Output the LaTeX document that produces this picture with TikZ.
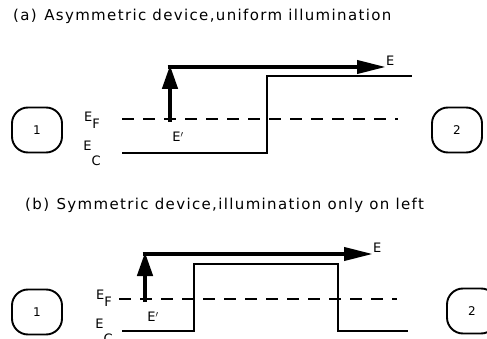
\documentclass[tikz,border=0pt]{standalone}
\usepackage{fontspec}
\setmainfont{DejaVu Sans}
\newfontfamily\capfont[LetterSpace=9]{DejaVu Sans}
\usetikzlibrary{arrows.meta}

\begin{document}
\begin{tikzpicture}[x=1pt, y=-1pt,
  termbox/.style={draw, line width=1.9pt, rounded corners=16pt, minimum width=50pt, minimum height=45pt, font=\fontsize{12}{14}\selectfont},
  band/.style={line width=1.3pt},
  fermi/.style={line width=1.3pt, dash pattern=on 12pt off 9pt},
  uparrow/.style={line width=4.5pt, -{Triangle[length=24pt, width=15pt]}},
  rightarrow/.style={line width=4pt, -{Triangle[length=29pt, width=13pt]}, shorten <=-2.5pt},
  lbl/.style={font=\fontsize{13}{15}\selectfont, inner sep=0pt},
  caption/.style={anchor=west, inner sep=0pt, font=\capfont\fontsize{15}{17}\selectfont}]
\useasboundingbox (0,0) rectangle (487,339);
\clip (0,0) rectangle (487,339);

% (a) Asymmetric device
\node[caption] (capa) at (13,16) {(a)\enspace Asymmetric device,uniform illumination};
\node[termbox] (boxa1) at (37,130) {1};
\node[termbox] (boxa2) at (457,130) {2};
\node[lbl] (efa) at (92,120) {E\raisebox{-7pt}{F}};
\node[lbl] (eca) at (92,153) {E\raisebox{-15pt}{C}};
\draw[fermi] (122,119) -- (398,119);
\draw[band] (122,153) -- (267,153) -- (267,76) -- (412,76);
\coordinate (starta) at (170,122);
\coordinate (topa) at (170,67);
\node[lbl] (eprimea) at (178,137) {E$'$};
\node[lbl, anchor=west] (ea) at (386,61) {E};
\draw[uparrow] (starta) -- ([yshift=2pt]topa);
\draw[rightarrow] (topa) -- (topa -| ea.west);

% (b) Symmetric device
\node[caption] (capb) at (25,205) {(b)\enspace Symmetric device,illumination only on left};
\node[termbox] (boxb1) at (37,312) {1};
\node[termbox] (boxb2) at (472,311) {2};
\node[lbl] (efb) at (104,298) {E\raisebox{-7pt}{F}};
\node[lbl] (ecb) at (104,331) {E\raisebox{-15pt}{C}};
\draw[fermi] (119,299) -- (397,299);
\draw[band] (122,331) -- (194,331) -- (194,264) -- (338,264) -- (338,331) -- (408,331);
\coordinate (startb) at (145,302);
\coordinate (topb) at (145,254);
\node[lbl] (eprimeb) at (153,317) {E$'$};
\node[lbl, anchor=west] (eb) at (373,248) {E};
\draw[uparrow] (startb) -- ([yshift=2pt]topb);
\draw[rightarrow] (topb) -- (topb -| eb.west);
\end{tikzpicture}
\end{document}
